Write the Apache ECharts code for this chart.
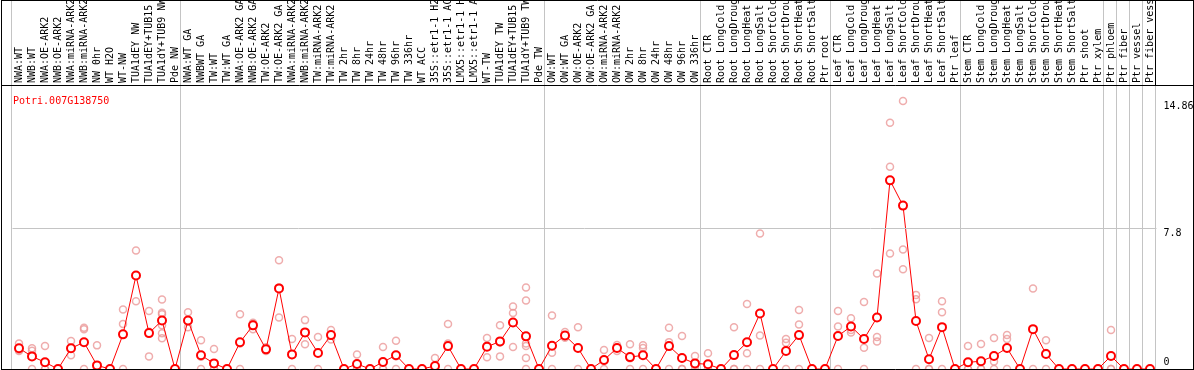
<!DOCTYPE html>
<html><head><meta charset="utf-8">
<script src="https://cdn.jsdelivr.net/npm/echarts@6/dist/echarts.min.js"></script>
<style>html,body{margin:0;padding:0;background:#fff}#c{width:1194px;height:370px}</style>
</head><body><div id="c"></div>
<script>
const geneId = 'Potri.007G138750';
const categories = [
  "NWA:WT","NWB:WT","NWA:OE-ARK2","NWB:OE-ARK2","NWA:miRNA-ARK2","NWB:miRNA-ARK2","NW 0hr","WT H2O","WT-NW","TUA1dEY NW","TUA1dEY+TUB15 NW","TUA1dY+TUB9 NW","Pde NW",
  "NWA:WT GA","NWBWT GA","TW:WT","TW:WT GA","NWA:OE-ARK2 GA","NWB:OE-ARK2 GA","TW:OE-ARK2","TW:OE-ARK2 GA","NWA:miRNA-ARK2 GA","NWB:miRNA-ARK2 GA","TW:miRNA-ARK2","TW:miRNA-ARK2 GA","TW 2hr","TW 8hr","TW 24hr","TW 48hr","TW 96hr","TW 336hr","WT ACC","35S::etr1-1 H2O","35S::etr1-1 ACC","LMX5::etr1-1 H2O","LMX5::etr1-1 ACC","WT-TW","TUA1dEY TW","TUA1dEY+TUB15 TW","TUA1dY+TUB9 TW","Pde TW",
  "OW:WT","OW:WT GA","OW:OE-ARK2","OW:OE-ARK2 GA","OW:miRNA-ARK2","OW:miRNA-ARK2 GA","OW 2hr","OW 8hr","OW 24hr","OW 48hr","OW 96hr","OW 336hr",
  "Root CTR","Root LongCold","Root LongDrought","Root LongHeat","Root LongSalt","Root ShortCold","Root ShortDrought","Root ShortHeat","Root ShortSalt","Ptr root",
  "Leaf CTR","Leaf LongCold","Leaf LongDrought","Leaf LongHeat","Leaf LongSalt","Leaf ShortCold","Leaf ShortDrought","Leaf ShortHeat","Leaf ShortSalt","Ptr leaf",
  "Stem CTR","Stem LongCold","Stem LongDrought","Stem LongHeat","Stem LongSalt","Stem ShortCold","Stem ShortDrought","Stem ShortHeat","Stem ShortSalt","Ptr shoot","Ptr xylem",
  "Ptr phloem","Ptr fiber","Ptr vessel","Ptr fiber vessel"
];
const groupSizes = [13, 28, 12, 10, 10, 11, 1, 1, 1, 1];
const means = [
  1.15,0.70,0.37,0,1.15,1.48,0.20,0,1.92,5.18,1.99,2.69,0,
  2.69,0.76,0.31,0,1.48,2.42,1.09,4.47,0.81,2.03,0.89,1.88,0,0.28,0,0.39,0.76,0,0,0.17,1.27,0,0,1.23,1.53,2.58,1.81,0,
  1.29,1.86,1.16,0,0.50,1.16,0.66,0.76,0,1.27,0.61,0.31,
  0.26,0,0.77,1.48,3.08,0,1.00,1.88,0,0,
  1.83,2.36,1.66,2.86,10.46,9.06,2.66,0.54,2.32,0,
  0.37,0.43,0.72,1.16,0,2.21,0.83,0,0,0,0,
  0.72,0,0,0
];
const replicates = [
  [1.42,1.0,1.05],[1.15,1.01,0],[1.27,0,0],[0,0,0],[1.55,0.76,1.14],[2.29,2.2,0],[1.31,0,0],[0,0,0],[3.30,2.49,0],[6.57,3.76,5.2],[3.21,0.70,2.06],[3.86,3.12,3.04,2.42,1.98,1.70],[0,0,0],
  [3.14,2.31,2.62],[1.6,0,0.68],[1.11,0,0],[0,0,0],[3.03,0,1.41],[2.56,2.49,2.2],[1.2,1.0,1.07],[6.03,2.86,4.52],[1.66,0,0.77],[2.71,1.37,2.01],[1.77,0,0.9],[2.16,1.64,1.84],[0,0,0],[0.81,0,0],[0,0,0],[1.22,0,0],[1.57,0,0.71],[0,0,0],[0,0,0],[0.61,0,0],[2.49,1.42,0],[0,0,0],[0,0,0],[1.72,0.65,1.3],[2.42,0.70,1.47],[3.47,3.1,1.22],[4.52,3.80,1.42,1.27,0.61,0],[0,0,0],
  [2.97,0.9,0],[2.05,1.8,1.73],[2.32,0,1.16],[0,0,0],[1.05,0,0.45],[1.33,1.16,1.0],[1.37,0,0.6],[1.31,1.16,0],[0,0,0],[2.29,1.49,0],[1.83,0,0],[0.72,0,0.2],
  [0.87,0,0],[0,0,0],[2.31,0,0],[3.6,0.87,0],[7.51,1.86,0],[0,0,0],[1.66,1.46,0],[3.27,2.47,0],[0,0,0],[0,0,0],
  [3.21,2.36,0],[2.81,2.16,2.03],[3.71,1.18,0],[5.30,1.78,1.53],[13.65,11.22,6.40],[14.86,6.62,5.53],[4.11,3.87,0],[1.72,0,0],[3.76,3.14,0],[0,0,0],
  [1.27,0,0],[1.38,0,0],[1.72,0.41,0],[1.88,1.66,0],[0,0,0],[4.47,2.2,0],[1.6,0.89,0],[0,0,0],[0,0,0],[0,0,0],[0,0,0],
  [2.16,0,0],[0,0,0],[0,0,0],[0,0,0]
];
const yTickValues = [0, 7.8, 14.86];
const yMax = 15.747;
const midGridValue = 7.8;

const FONT = 'DejaVu Sans Mono';
const boundaries = new Set([0]);
let acc = 0; groupSizes.forEach(s => { acc += s; boundaries.add(acc); });
const repPoints = [];
replicates.forEach((arr, i) => arr.forEach(v => repPoints.push([i, v])));

const chart = echarts.init(document.getElementById('c'), null, {renderer: 'canvas'});
const line = (x1, y1, x2, y2) => ({type: 'line', shape: {x1, y1, x2, y2}, style: {stroke: '#000', lineWidth: 1}, z: 100, silent: true});
chart.setOption({
  animation: false,
  backgroundColor: '#fff',
  title: {text: geneId, left: 8, top: 91, textStyle: {color: '#ff0000', fontSize: 10, fontFamily: FONT, fontWeight: 'normal'}},
  grid: [
    {left: 12.5, width: 1144, top: 85, height: 284, outerBoundsMode: 'none', containLabel: false},
    {left: 11, width: 1144, top: 0, height: 370, outerBoundsMode: 'none', containLabel: false}
  ],
  xAxis: [
    {type: 'category', gridIndex: 0, data: categories, position: 'top', boundaryGap: true,
     axisLine: {show: false}, axisTick: {show: false}, splitLine: {show: false},
     axisLabel: {interval: 0, rotate: 90, margin: 2, fontFamily: FONT, fontSize: 10, color: '#000'}},
    {type: 'category', gridIndex: 1, data: categories, boundaryGap: true,
     axisLine: {show: false}, axisTick: {show: false}, axisLabel: {show: false},
     splitLine: {show: true, interval: (i) => boundaries.has(i), lineStyle: {color: '#c4c4c4', width: 1}}}
  ],
  yAxis: [
    {type: 'value', gridIndex: 0, position: 'right', min: 0, max: yMax,
     axisLine: {show: false}, axisTick: {show: false}, splitLine: {show: false},
     axisLabel: {customValues: yTickValues, margin: 7, align: 'left', verticalAlign: 'middle',
       formatter: v => (v === 0 ? '{b|0}' : '{t|' + v + '}'),
       rich: {
         t: {padding: [10, 0, 0, 0], lineHeight: 10, fontFamily: FONT, fontSize: 10, color: '#000'},
         b: {padding: [0, 0, 14, 0], lineHeight: 10, fontFamily: FONT, fontSize: 10, color: '#000'}
       }}},
    {type: 'value', gridIndex: 1, show: false, min: 0, max: 1}
  ],
  series: [
    {type: 'scatter', xAxisIndex: 0, yAxisIndex: 0, data: repPoints, symbol: 'circle', symbolSize: 7,
     itemStyle: {color: 'rgba(255,255,255,0)', borderColor: '#eb9999', borderWidth: 1.5}, z: 2, silent: true},
    {type: 'line', xAxisIndex: 0, yAxisIndex: 0, data: means, symbol: 'circle', symbolSize: 8,
     lineStyle: {color: '#ff0000', width: 1}, itemStyle: {color: '#fff', borderColor: '#ff0000', borderWidth: 2}, z: 3, silent: true,
     markLine: {silent: true, symbol: 'none', label: {show: false}, lineStyle: {color: '#c4c4c4', type: 'solid', width: 1},
       data: [{yAxis: midGridValue}]}}
  ],
  graphic: [
    line(1.5, 0, 1.5, 370),
    line(1, 0.5, 1194, 0.5),
    line(1193.5, 0, 1193.5, 370),
    line(1, 85.5, 1194, 85.5),
    line(1, 369.5, 1194, 369.5),
    line(1155.5, 0, 1155.5, 85)
  ]
});
</script></body></html>
